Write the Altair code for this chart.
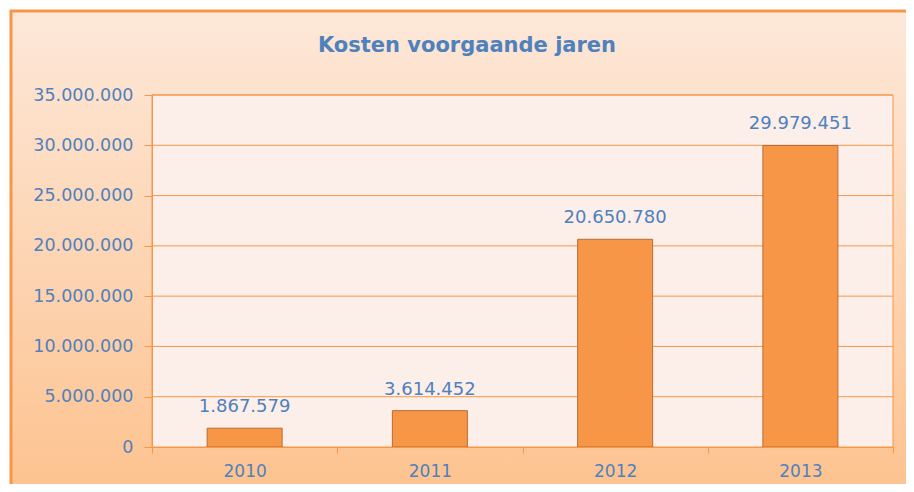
import altair as alt
import pandas as pd

years = ["2010", "2011", "2012", "2013"]
costs = [1867579, 3614452, 20650780, 29979451]
grid_values = [5000000, 10000000, 15000000, 20000000, 25000000, 30000000, 35000000]
y_ticks = [0, 5000000, 10000000, 15000000, 20000000, 25000000, 30000000, 35000000]
chart_title = "Kosten voorgaande jaren"

W, H = 741, 352
BLUE = "#4F81BD"
ORANGE = "#F79646"
FONT = "DejaVu Sans"

df = pd.DataFrame({"year": years, "cost": costs})
grid_df = pd.DataFrame({"v": grid_values})
one = pd.DataFrame({"a": [0]})
title_df = pd.DataFrame({"t": [chart_title]})

xscale = alt.Scale(paddingInner=0, paddingOuter=0)
yscale = alt.Scale(domain=[0, 35000000], nice=False)

yaxis = alt.Axis(values=y_ticks, format=",d", tickSize=8,
                 tickColor=ORANGE, domainColor=ORANGE, labelColor=BLUE,
                 labelFont=FONT, labelFontSize=17.5, labelPadding=11,
                 grid=False, zindex=1, title=None)

bg = alt.Chart(one).mark_rect(
    fill=alt.Gradient(
        gradient="linear", x1=0, y1=0, x2=0, y2=1,
        stops=[alt.GradientStop(color="#FDE8D9", offset=0),
               alt.GradientStop(color="#FDC08A", offset=1)],
    ),
    stroke=ORANGE, strokeWidth=3, clip=False,
).encode(x=alt.value(-141), x2=alt.value(800), y=alt.value(-84), y2=alt.value(430))

plotbg = alt.Chart(one).mark_rect(
    fill="#FCEEE9", stroke=ORANGE, strokeWidth=1
).encode(x=alt.value(0), x2=alt.value(W), y=alt.value(0), y2=alt.value(H))

title = alt.Chart(title_df).mark_text(
    font=FONT, fontSize=21, fontWeight="bold", color=BLUE,
    align="center", baseline="middle"
).encode(x=alt.value(315), y=alt.value(-49), text="t:N")

grid = alt.Chart(grid_df).mark_rule(color="#F79646", strokeWidth=1).encode(
    y=alt.Y("v:Q", scale=yscale, axis=yaxis)
)

bars = alt.Chart(df).mark_bar(
    size=75, color=ORANGE, stroke="#B96D35", strokeWidth=1
).encode(
    x=alt.X("year:N", scale=xscale, sort=years, title=None,
            axis=alt.Axis(labelAngle=0, tickBand="extent", tickSize=6,
                          tickColor=ORANGE, domainColor=ORANGE, labelColor=BLUE,
                          labelFont=FONT, labelFontSize=17, labelPadding=10,
                          grid=False, zindex=1)),
    y=alt.Y("cost:Q", scale=yscale, title=None, axis=yaxis),
)

labels = alt.Chart(df).mark_text(
    dy=-16, baseline="alphabetic", font=FONT, fontSize=18, color=BLUE
).encode(
    x=alt.X("year:N", scale=xscale, sort=years),
    y=alt.Y("cost:Q", scale=yscale),
    text=alt.Text("cost:Q", format=",d"),
)

chart = alt.layer(bg, plotbg, title, grid, bars, labels).properties(
    width=W, height=H,
    padding={"left": 144, "top": 87, "right": 13, "bottom": 37},
    autosize="none",
).configure_view(stroke=None).configure(
    locale={"number": {"decimal": ",", "thousands": ".", "grouping": [3],
                       "currency": ["€", ""]}}
)

chart.save("out.html", embed_options={"renderer": "svg", "actions": False})
